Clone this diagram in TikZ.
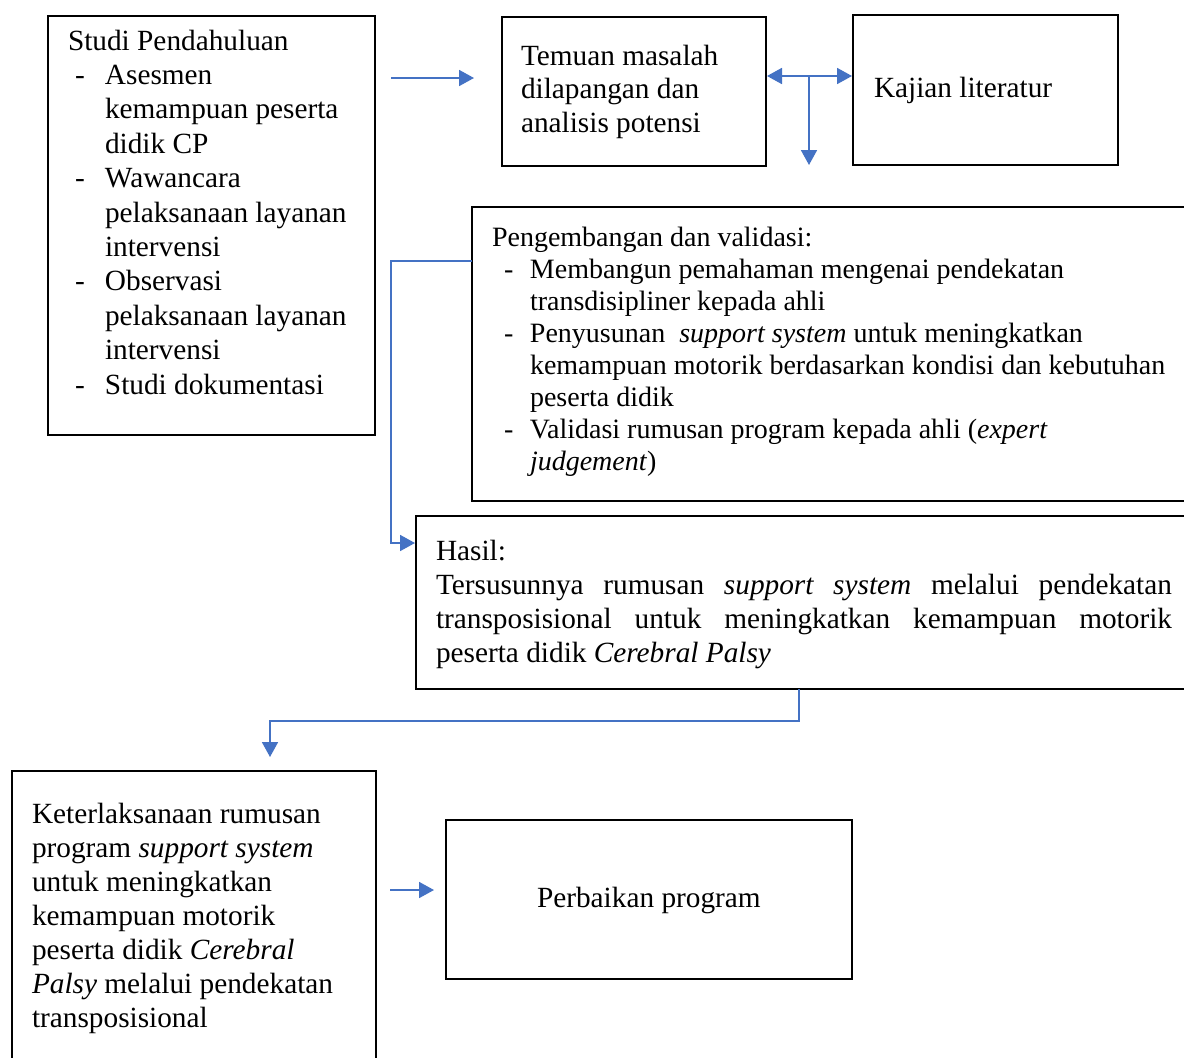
\documentclass[tikz,border=0pt]{standalone}
\usepackage{fontspec}
\setmainfont{Liberation Serif}
\usetikzlibrary{arrows.meta}
\definecolor{wblue}{HTML}{4472C4}
\begin{document}
\begin{tikzpicture}[x=1pt,y=-1pt,
  box/.style={draw=black, line width=2.6pt, inner sep=0pt, outer sep=0pt, anchor=north west},
  conn/.style={draw=wblue, line width=1.8pt},
  tip/.style={-{Triangle[length=15pt,width=16pt]}},
  txt/.style={inner sep=0pt, outer sep=0pt, anchor=base west}]
\useasboundingbox[fill=white] (0,0) rectangle (1184,1058);

% boxes
\node[box, minimum width=327pt, minimum height=419pt] (b1) at (48,16) {};
\node[box, minimum width=264pt, minimum height=149pt] (b2) at (502,17) {};
\node[box, minimum width=265pt, minimum height=150pt] (b3) at (853,15) {};
\node[box, minimum width=760pt, minimum height=294pt] (b4) at (472,207) {};
\node[box, minimum width=800pt, minimum height=173pt] (b5) at (416,516) {};
\node[box, minimum width=364pt, minimum height=320pt] (b6) at (12,771) {};
\node[box, minimum width=406pt, minimum height=159pt] (b7) at (446,820) {};

% texts
\node[txt] (t1) at (68,50) {\parbox[t]{320pt}{\fontsize{29.3}{34.4}\selectfont\raggedright
Studi Pendahuluan\\
\hspace*{7pt}\makebox[30pt][l]{-}Asesmen\\
\hspace*{37pt}kemampuan peserta\\
\hspace*{37pt}didik CP\\
\hspace*{7pt}\makebox[30pt][l]{-}Wawancara\\
\hspace*{37pt}pelaksanaan layanan\\
\hspace*{37pt}intervensi\\
\hspace*{7pt}\makebox[30pt][l]{-}Observasi\\
\hspace*{37pt}pelaksanaan layanan\\
\hspace*{37pt}intervensi\\
\hspace*{7pt}\makebox[30pt][l]{-}Studi dokumentasi}};

\node[txt] (t2) at (521,65) {\parbox[t]{240pt}{\fontsize{29.3}{33.6}\selectfont\raggedright
Temuan masalah\\dilapangan dan\\analisis potensi}};

\node[txt] (t3) at (874,97) {\fontsize{29.3}{34}\selectfont Kajian literatur};

\node[txt] (t4) at (492,246) {\parbox[t]{700pt}{\fontsize{28}{32}\selectfont\raggedright
Pengembangan dan validasi:\\
\hspace*{12pt}\makebox[26pt][l]{-}Membangun pemahaman mengenai pendekatan\\
\hspace*{38pt}transdisipliner kepada ahli\\
\hspace*{12pt}\makebox[26pt][l]{-}Penyusunan \ \textit{support system} untuk meningkatkan\\
\hspace*{38pt}kemampuan motorik berdasarkan kondisi dan kebutuhan\\
\hspace*{38pt}peserta didik\\
\hspace*{12pt}\makebox[26pt][l]{-}Validasi rumusan program kepada ahli (\textit{expert}\\
\hspace*{38pt}\textit{judgement})}};

\node[txt] (t5) at (436,560) {\parbox[t]{736pt}{\fontsize{29.3}{34}\selectfont\parindent=0pt
Hasil:\\
Tersusunnya rumusan \textit{support system} melalui pendekatan\linebreak
transposisional untuk meningkatkan kemampuan motorik\linebreak
peserta didik \textit{Cerebral Palsy}}};

\node[txt] (t6) at (32,823) {\parbox[t]{340pt}{\fontsize{29.3}{34}\selectfont\raggedright
Keterlaksanaan rumusan\\
program \textit{support system}\\
untuk meningkatkan\\
kemampuan motorik\\
peserta didik \textit{Cerebral}\\
\textit{Palsy} melalui pendekatan\\
transposisional}};

\node[txt] (t7) at (537,907) {\fontsize{29.3}{34}\selectfont Perbaikan program};

% connectors
\coordinate (a1s) at (391,78);
\coordinate (a1e) at (474,78);
\draw[conn,tip] (a1s) -- (a1e);

\coordinate (j) at (809,76);
\coordinate (jd) at (809,165);
\draw[conn,tip,shorten >=1pt] (j) -- (b2.east |- j);
\draw[conn,tip,shorten >=1pt] (j) -- (b3.west |- j);
\draw[conn,tip] (j) -- (jd);

\coordinate (k1) at (472,261);
\coordinate (h5) at (0,543);
\draw[conn,tip,shorten >=1pt] (k1) -- ++(-81,0) |- (b5.west |- h5);

\coordinate (k2) at (799,689);
\coordinate (k3) at (270,757);
\draw[conn,tip] (k2) -- (799,721) -| (k3);

\coordinate (k4) at (390,890);
\coordinate (k5) at (434,890);
\draw[conn,tip] (k4) -- (k5);
\end{tikzpicture}
\end{document}
